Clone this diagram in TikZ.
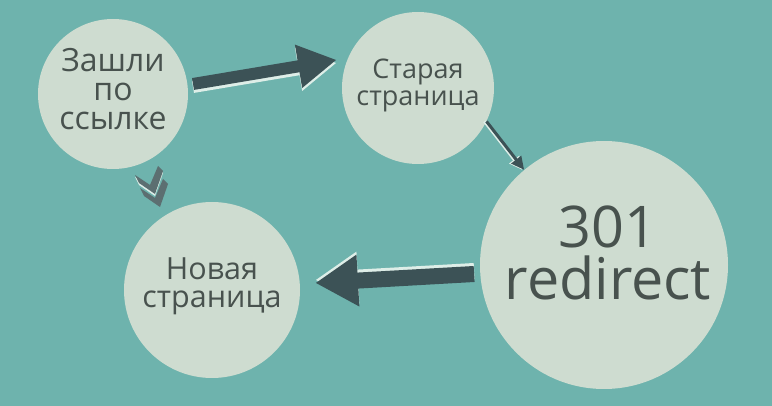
\documentclass[tikz,border=0pt]{standalone}
\usepackage{fontspec}
\setmainfont{Open Sans}
\usetikzlibrary{arrows.meta, calc}

\definecolor{bgteal}{RGB}{110,179,173}
\definecolor{bubblefill}{RGB}{206,220,208}
\definecolor{bubbletext}{RGB}{72,82,78}
\definecolor{arrowdark}{RGB}{60,82,86}
\definecolor{arrowlight}{RGB}{222,238,232}
\definecolor{chevgray}{RGB}{92,111,113}

\tikzset{
	bubble/.style={circle, fill=bubblefill, inner sep=0pt},
	caption/.style={text=bubbletext, align=center, inner sep=0pt},
	bigarrow/.style={arrowdark, line width=#1},
	hilite/.style={arrowlight, line width=#1},
}

\begin{document}
\begin{tikzpicture}[x=1pt, y=-1pt]
			\useasboundingbox (0,0) rectangle (772,406);
			\fill[bgteal] (0,0) rectangle (772,406);

			\node[bubble, minimum size=150pt] (visit) at (113,94) {};
			\node[bubble, minimum size=152pt] (oldpage) at (418,88) {};
			\node[bubble, minimum size=248pt] (redirect) at (604,265) {};
			\node[bubble, minimum size=176pt] (newpage) at (212,290) {};

			\node[caption, font=\fontsize{32}{29}\selectfont] (visit-text) at ([yshift=5pt]visit.center) {Зашли\\по\\ссылке};
			\node[caption, font=\fontsize{27}{27}\selectfont] (oldpage-text) at ([yshift=3pt]oldpage.center) {Старая\\страница};
			\node[caption, font=\fontsize{57.5}{52}\selectfont] (redirect-text) at ([xshift=4pt, yshift=12pt]redirect.center) {301\\redirect};
			\node[caption, font=\fontsize{30.5}{28}\selectfont] (newpage-text) at ([yshift=4pt]newpage.center) {Новая\\страница};

			% big arrow to the old page
			\coordinate (go-s) at ([shift={(80,-10)}]visit.center);
			\coordinate (go-t) at ([shift={(-82,-28)}]oldpage.center);
			\coordinate (go-h) at ($(go-t)!38pt!(go-s)$);
			\fill[arrowlight, transform canvas={yshift=-3pt}]
			($(go-s)!6pt!90:(go-t)$) -- ($(go-h)!6pt!90:(go-t)$) -- ($(go-h)!22pt!90:(go-t)$) -- (go-t)
			-- ($(go-h)!22pt!-90:(go-t)$) -- ($(go-h)!6pt!-90:(go-t)$) -- ($(go-s)!6pt!-90:(go-t)$) -- cycle;
			\fill[arrowdark]
			($(go-s)!6pt!90:(go-t)$) -- ($(go-h)!6pt!90:(go-t)$) -- ($(go-h)!22pt!90:(go-t)$) -- (go-t)
			-- ($(go-h)!22pt!-90:(go-t)$) -- ($(go-h)!6pt!-90:(go-t)$) -- ($(go-s)!6pt!-90:(go-t)$) -- cycle;

			% thin arrow down to the redirect
			\draw[hilite=3pt, -{Triangle[width=12pt, length=13pt]}, transform canvas={xshift=-2pt}] (oldpage.-26) -- (redirect.130);
			\draw[bigarrow=3pt, -{Triangle[width=12pt, length=13pt]}] (oldpage.-26) -- (redirect.130);

			% big arrow back to the new page
			\coordinate (back-s) at ($(redirect.184)!6pt!(newpage.4)$);
			\coordinate (back-t) at ($(newpage.4)!16pt!(redirect.184)$);
			\coordinate (back-h) at ($(back-t)!42pt!(back-s)$);
			\fill[arrowlight, transform canvas={yshift=3pt}]
			($(back-s)!8pt!90:(back-t)$) -- ($(back-h)!8pt!90:(back-t)$) -- ($(back-h)!26pt!90:(back-t)$) -- (back-t)
			-- ($(back-h)!26pt!-90:(back-t)$) -- ($(back-h)!8pt!-90:(back-t)$) -- ($(back-s)!8pt!-90:(back-t)$) -- cycle;
			\fill[arrowdark]
			($(back-s)!8pt!90:(back-t)$) -- ($(back-h)!8pt!90:(back-t)$) -- ($(back-h)!26pt!90:(back-t)$) -- (back-t)
			-- ($(back-h)!26pt!-90:(back-t)$) -- ($(back-h)!8pt!-90:(back-t)$) -- ($(back-s)!8pt!-90:(back-t)$) -- cycle;

			% chevrons
			\fill[chevgray] (140,188) -- (155,198) -- (163,179) -- (168,184) -- (160,207) -- (144,196) -- cycle;
			\fill[arrowlight, transform canvas={yshift=-2pt}] (135,175) -- (150,185) -- (158,166) -- (163,171) -- (155,194) -- (139,183) -- cycle;
			\fill[chevgray] (135,175) -- (150,185) -- (158,166) -- (163,171) -- (155,194) -- (139,183) -- cycle;
\end{tikzpicture}
\end{document}
